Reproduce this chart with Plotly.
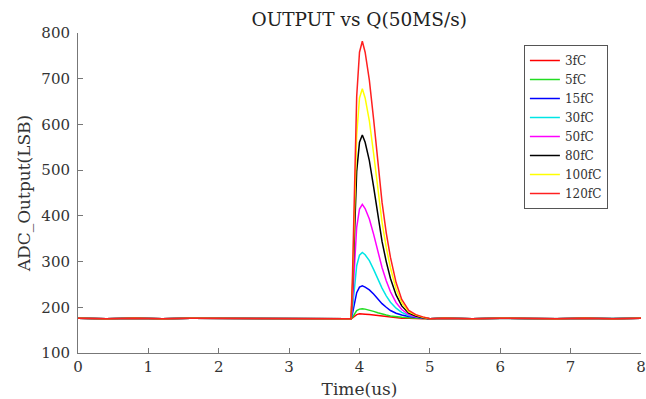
import plotly.graph_objects as go

# Time axis (us)
PRE_T = [0.0, 0.4, 0.8, 1.2, 1.6, 2.0, 2.4, 2.8, 3.2, 3.6, 3.85]
PULSE_T = [3.88, 3.90, 3.93, 3.96, 4.00, 4.04, 4.08, 4.14, 4.20, 4.26, 4.32,
           4.38, 4.44, 4.52, 4.60, 4.70, 4.80, 4.90, 5.00]
POST_T = [5.2, 5.6, 6.0, 6.4, 6.8, 7.2, 7.6, 8.0]

PRE_BASE = [176, 175, 176, 175, 176, 176, 175, 176, 175, 176, 175]
POST_BASE = [176, 175, 176, 175, 175, 176, 175, 176]

labels = ["3fC", "5fC", "15fC", "30fC", "50fC", "80fC", "100fC", "120fC"]
colors = ["#ff0000", "#22dd22", "#0000ff", "#00e5e5", "#ff00ff", "#000000", "#ffff00", "#ff2020"]

pulse_3fC = [175, 177, 181, 184, 186, 186, 185, 184, 183, 181, 180, 179, 178, 177, 176, 176, 175, 175, 175]
pulse_5fC = [175, 178, 186, 193, 196, 197, 196, 194, 191, 188, 185, 183, 181, 179, 178, 177, 176, 175, 175]
pulse_15fC = [175, 186, 211, 232, 244, 247, 244, 238, 229, 218, 208, 200, 193, 187, 183, 180, 178, 176, 175]
pulse_30fC = [175, 197, 248, 291, 314, 320, 315, 302, 283, 262, 242, 225, 211, 198, 189, 182, 179, 177, 175]
pulse_50fC = [175, 212, 300, 375, 415, 425, 416, 393, 360, 322, 287, 258, 234, 210, 195, 184, 179, 177, 175]
pulse_80fC = [175, 235, 376, 497, 561, 577, 561, 521, 464, 400, 344, 300, 263, 227, 203, 187, 181, 177, 175]
pulse_100fC = [175, 250, 427, 577, 658, 678, 658, 608, 537, 457, 386, 331, 286, 240, 210, 190, 183, 178, 175]
pulse_120fC = [175, 266, 478, 661, 758, 782, 758, 697, 612, 515, 430, 363, 309, 254, 217, 193, 184, 179, 175]

pulses = [pulse_3fC, pulse_5fC, pulse_15fC, pulse_30fC, pulse_50fC,
          pulse_80fC, pulse_100fC, pulse_120fC]

x_ticks = [0, 1, 2, 3, 4, 5, 6, 7, 8]
y_ticks = [100, 200, 300, 400, 500, 600, 700, 800]

FONT = "DejaVu Serif"
TXT = "#333333"
fig = go.Figure()
for lab, col, p in zip(labels, colors, pulses):
    fig.add_trace(go.Scatter(
        x=PRE_T + PULSE_T + POST_T,
        y=PRE_BASE + p + POST_BASE,
        mode="lines", name=lab,
        line=dict(color=col, width=1.5),
    ))

axis_common = dict(
    showline=True, linecolor="#777777", linewidth=1,
    ticks="inside", ticklen=5, tickcolor="#777777",
    showgrid=False, zeroline=False, mirror=False,
    automargin=False, ticklabeloverflow="allow",
    tickfont=dict(family=FONT, size=15, color=TXT),
)
fig.update_xaxes(range=[0, 8], tickvals=x_ticks,
                 title=dict(text="Time(us)", font=dict(family=FONT, size=17, color=TXT), standoff=8),
                 **axis_common)
fig.update_yaxes(range=[100, 800], tickvals=y_ticks, ticklabelstandoff=4,
                 title=dict(text="ADC_Output(LSB)", font=dict(family=FONT, size=17, color=TXT), standoff=6),
                 **axis_common)

fig.update_layout(
    width=646, height=399,
    margin=dict(l=78, r=5, t=33, b=46),
    paper_bgcolor="white", plot_bgcolor="white",
    title=dict(text="OUTPUT vs Q(50MS/s)", x=0.556, xanchor="center", y=0.95, yanchor="middle",
               font=dict(family=FONT, size=18.5, color="#222222")),
    legend=dict(x=0.792, y=0.9625, xanchor="left", yanchor="top",
                bordercolor="#555555", borderwidth=1, bgcolor="white",
                font=dict(family=FONT, size=12, color=TXT),
                tracegroupgap=0),
    showlegend=True,
)

fig.write_html("out.html", config={"displayModeBar": False},
               post_script="document.body.style.margin='0';")
